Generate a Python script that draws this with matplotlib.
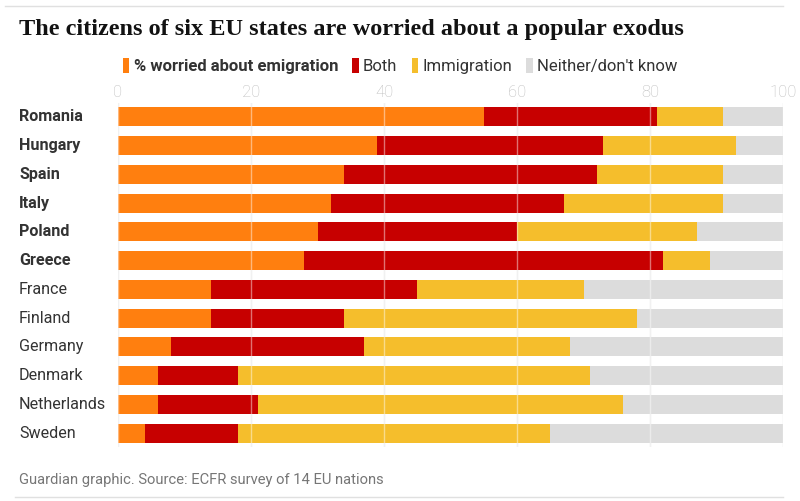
import numpy as np
import matplotlib.pyplot as plt
from matplotlib.patches import Patch

countries = ['Romania', 'Hungary', 'Spain', 'Italy', 'Poland', 'Greece',
             'France', 'Finland', 'Germany', 'Denmark', 'Netherlands', 'Sweden']
emigration = [55, 39, 34, 32, 30, 28, 14, 14, 8, 6, 6, 4]
both = [26, 34, 38, 35, 30, 54, 31, 20, 29, 12, 15, 14]
immigration = [10, 20, 19, 24, 27, 7, 25, 44, 31, 53, 55, 47]
neither = [100 - a - b - c for a, b, c in zip(emigration, both, immigration)]
n_bold = 6

series = [emigration, both, immigration, neither]
labels = ['% worried about emigration', 'Both', 'Immigration', "Neither/don't know"]
colors = ['#ff7f0f', '#c70000', '#f5be2c', '#dcdcdc']

plt.rcParams['font.family'] = ['Roboto', 'DejaVu Sans']

fig = plt.figure(figsize=(8, 5.01), dpi=100)
ax = fig.add_axes([118 / 800, 1 - 447.4 / 501, 665 / 800, 344.8 / 501])

y = np.arange(len(countries))
left = np.zeros(len(countries))
for vals, col in zip(series, colors):
    ax.barh(y, vals, left=left, height=0.66, color=col, zorder=2)
    left += np.array(vals)

for x in range(0, 101, 20):
    ax.axvline(x, color='#e6e6e6', lw=1, zorder=0)
    ax.axvline(x, color='white', lw=1, alpha=0.45, zorder=3)

ax.set_xlim(0, 100)
ax.set_ylim(len(countries) - 0.5, -0.5)
ax.xaxis.tick_top()
ax.set_xticks(range(0, 101, 20))
ax.tick_params(axis='x', length=0, labelsize=12, labelcolor='#bdbdbd', pad=2)
for t in ax.get_xticklabels():
    t.set_fontweight('light')
ax.set_yticks([])
for s in ax.spines.values():
    s.set_visible(False)

for i, c in enumerate(countries):
    fig.text(19 / 800, ax.transData.transform((0, i))[1] / fig.dpi / 5.01,
             c, ha='left', va='center', fontsize=11.6, color='#333333',
             fontweight='bold' if i < n_bold else 'normal')

fig.text(19 / 800, 1 - 30 / 501, 'The citizens of six EU states are worried about a popular exodus',
         fontsize=17.5, fontweight='bold', family='Liberation Serif', color='#121212',
         ha='left', va='center')

handles = [Patch(facecolor=c) for c in colors]
leg = fig.legend(handles, labels, ncol=4, loc='center left',
                 bbox_to_anchor=(116 / 800, 1 - 66 / 501), frameon=False,
                 handlelength=0.4, handleheight=1.0, handletextpad=0.25,
                 columnspacing=0.85, fontsize=12, borderaxespad=0)
for i, t in enumerate(leg.get_texts()):
    t.set_color('#333333')
    if i == 0:
        t.set_fontweight('bold')

fig.text(19 / 800, 1 - 480 / 501, 'Guardian graphic. Source: ECFR survey of 14 EU nations',
         fontsize=10.6, color='#767676', ha='left', va='center')

fig.add_artist(plt.Line2D([5 / 800, 783 / 800], [1 - 6 / 501, 1 - 6 / 501],
                          color='#e0e0e0', lw=1))
fig.add_artist(plt.Line2D([15 / 800, 783 / 800], [1 - 497 / 501, 1 - 497 / 501],
                          color='#e0e0e0', lw=1))

fig.savefig('out.png', dpi=100)
